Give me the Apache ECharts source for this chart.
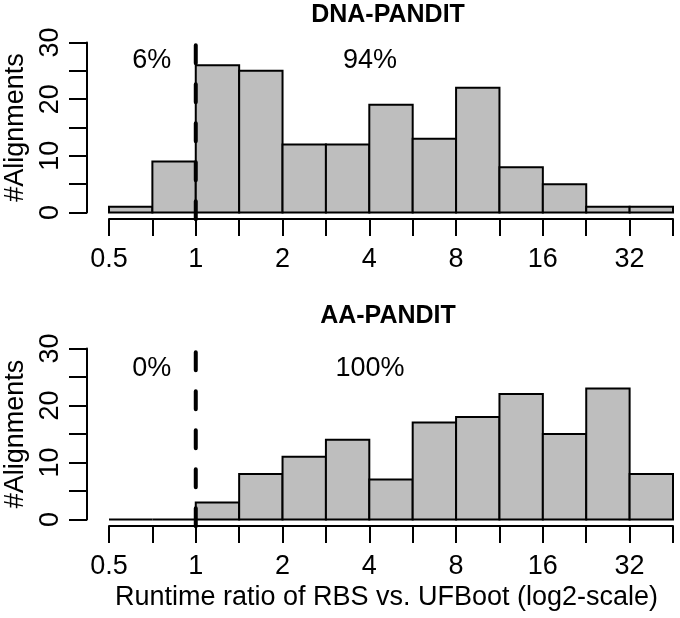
<!DOCTYPE html>
<html><head><meta charset="utf-8">
<script src="https://cdn.jsdelivr.net/npm/echarts@6/dist/echarts.min.js"></script>
<style>html,body{margin:0;padding:0;background:#fff}#c{width:680px;height:618px}</style>
</head><body><div id="c"></div>
<script>
// ---- data ----
const binLeft = [-1, -0.5, 0, 0.5, 1, 1.5, 2, 2.5, 3, 3.5, 4, 4.5, 5]; // log2 bin starts
const binWidth = 0.5;
const dnaCounts = [1, 9, 26, 25, 12, 12, 19, 13, 22, 8, 5, 1, 1];
const aaCounts  = [0, 0, 3, 8, 11, 14, 7, 17, 18, 22, 15, 23, 8];
const xTickLog2 = [-1, 0, 1, 2, 3, 4, 5];
const xTickLabels = ['0.5', '1', '2', '4', '8', '16', '32'];
const yTickLabels = [0, 10, 20, 30];
const panelTitles = ['DNA-PANDIT', 'AA-PANDIT'];
const pctLeft = ['6%', '0%'];
const pctRight = ['94%', '100%'];
const thresholdLog2 = 0;
const yTitle = '#Alignments';
const xTitle = 'Runtime ratio of RBS vs. UFBoot (log2-scale)';

// ---- chart ----
const FONT = '"Liberation Sans", Arial, Helvetica, sans-serif';
const FS = 27;
const X_MIN = -1, X_MAX = 5.5, Y_MIN = 0, Y_MAX = 30;
const Y_EXT = 0.04 * (Y_MAX - Y_MIN);
const grids = [
  { left: 109, width: 564, top: 42.5, height: 170 },
  { left: 109, width: 564, top: 348.5, height: 171 }
];
const chart = echarts.init(document.getElementById('c'), null, { renderer: 'canvas' });

function renderBar(params, api) {
  const x0 = api.value(0), x1 = api.value(1), c = api.value(2);
  const p0 = api.coord([x0, 0]);
  const p1 = api.coord([x1, c]);
  return {
    type: 'rect',
    shape: { x: p0[0], y: p1[1], width: p1[0] - p0[0], height: p0[1] - p1[1] },
    style: { fill: '#bebebe', stroke: '#000', lineWidth: 2 }
  };
}

const xAxes = [], yAxes = [], series = [], graphics = [];
[dnaCounts, aaCounts].forEach((counts, k) => {
  xAxes.push({
    gridIndex: k, type: 'value', min: X_MIN, max: X_MAX, interval: 0.5, offset: 6.5, position: 'bottom',
    axisLine: { show: true, onZero: false, lineStyle: { color: '#000', width: 2 } },
    axisTick: { show: true, length: 17, lineStyle: { color: '#000', width: 2 } },
    axisLabel: {
      show: true, margin: 27, color: '#000', fontSize: FS, fontFamily: FONT,
      showMinLabel: true, showMaxLabel: true, hideOverlap: false,
      formatter: v => { const i = xTickLog2.indexOf(v); return i >= 0 ? xTickLabels[i] : ''; }
    },
    splitLine: { show: false },
    name: k === 1 ? xTitle : '', nameLocation: 'middle', nameGap: 58,
    nameTextStyle: { color: '#000', fontSize: FS, fontFamily: FONT, padding: [0, 9, 0, 0] }
  });
  yAxes.push({
    gridIndex: k, type: 'value', min: Y_MIN, max: Y_MAX, interval: 5, offset: 22, position: 'left',
    axisLine: { show: true, onZero: false, lineStyle: { color: '#000', width: 2 } },
    axisTick: { show: true, length: 18, lineStyle: { color: '#000', width: 2 } },
    axisLabel: {
      show: true, rotate: 90, margin: 23, color: '#000', fontSize: FS, fontFamily: FONT,
      showMinLabel: true, showMaxLabel: true, hideOverlap: false,
      formatter: v => yTickLabels.indexOf(v) >= 0 ? String(v) : ''
    },
    splitLine: { show: false },
    name: yTitle, nameLocation: 'middle', nameGap: 55, nameRotate: 90,
    nameTextStyle: { color: '#000', fontSize: FS, fontFamily: FONT }
  });
  series.push({
    type: 'custom', xAxisIndex: k, yAxisIndex: k, renderItem: renderBar, clip: false,
    data: binLeft.map((b, i) => [b, b + binWidth, counts[i]]), z: 2, silent: true
  });
  series.push({
    type: 'line', xAxisIndex: k, yAxisIndex: k, clip: false, showSymbol: false, silent: true,
    data: [[thresholdLog2, Y_MIN - Y_EXT], [thresholdLog2, Y_MAX + Y_EXT]],
    lineStyle: { color: '#000', width: 4, type: [18, 21], cap: 'round' }, z: 5
  });
  graphics.push({
    type: 'text', x: 388, y: k === 0 ? 15.5 : 316.5,
    style: { text: panelTitles[k], font: 'bold 25px ' + FONT, fill: '#000', align: 'center', verticalAlign: 'middle' }
  });
  graphics.push({
    type: 'text', x: 151.7, y: k === 0 ? 61 : 368.5,
    style: { text: pctLeft[k], font: FS + 'px ' + FONT, fill: '#000', align: 'center', verticalAlign: 'middle' }
  });
  graphics.push({
    type: 'text', x: 370, y: k === 0 ? 61 : 368.5,
    style: { text: pctRight[k], font: FS + 'px ' + FONT, fill: '#000', align: 'center', verticalAlign: 'middle' }
  });
});

chart.setOption({
  animation: false,
  backgroundColor: '#fff',
  grid: grids.map(g => Object.assign({ outerBoundsMode: 'none', containLabel: false }, g)),
  xAxis: xAxes,
  yAxis: yAxes,
  series: series,
  graphic: graphics
});
</script></body></html>
